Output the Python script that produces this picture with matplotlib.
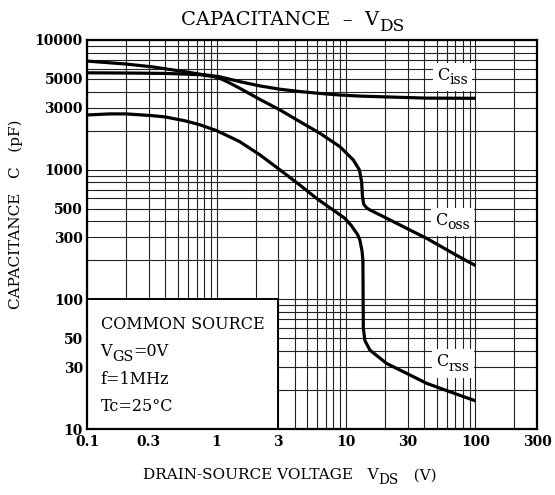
import matplotlib
matplotlib.use("Agg")
import matplotlib.pyplot as plt
from matplotlib.patches import Rectangle
from matplotlib.transforms import offset_copy, IdentityTransform

# data (V, pF)
ciss_v = [0.1, 0.2, 0.315, 0.57, 0.74, 1.06, 1.5, 2.16, 3.09, 4.4, 6.28, 9.0, 12.8, 20, 42, 100]
ciss_c = [6870, 6520, 6210, 5690, 5450, 5200, 4780, 4420, 4170, 4000, 3870, 3760, 3690, 3640, 3560, 3550]

coss_v = [0.1, 0.2, 0.4, 0.74, 0.95, 1.1, 1.25, 1.51, 2.16, 3.09, 4.4, 6.28, 8.97, 11.4, 12.7,
          13.2, 13.4, 13.7, 14.5, 15.3, 20, 30, 42, 70, 100]
coss_c = [5580, 5560, 5520, 5400, 5220, 4980, 4680, 4240, 3480, 2885, 2345, 1908, 1503, 1185, 993,
          800, 620, 540, 505, 489, 428, 349, 295, 221, 182]

crss_v = [0.1, 0.15, 0.2, 0.315, 0.4, 0.57, 0.74, 1.0, 1.5, 2.16, 3.09, 4.4, 6.0, 8.0, 9.8,
          11.0, 12.3, 12.8, 13.3, 13.5, 13.55, 13.6, 14.0, 15.3, 20.6, 30, 42, 70, 100]
crss_c = [2640, 2690, 2690, 2610, 2550, 2380, 2220, 2000, 1650, 1300, 995, 760, 594, 486, 421,
          370, 315, 286, 235, 200, 110, 60, 48, 40.6, 32, 26.6, 22.5, 18.7, 16.5]

x_ticks = [0.1, 0.3, 1, 3, 10, 30, 100, 300]
x_tick_labels = ["0.1", "0.3", "1", "3", "10", "30", "100", "300"]
y_ticks = [10, 30, 50, 100, 300, 500, 1000, 3000, 5000, 10000]
y_tick_labels = ["10", "30", "50", "100", "300", "500", "1000", "3000", "5000", "10000"]

plt.rcParams['font.family'] = 'DejaVu Serif'

fig = plt.figure(figsize=(5.55, 4.95), dpi=100)
ax = fig.add_axes([0.157, 0.1333, 0.811, 0.786])
ax.set_xscale('log')
ax.set_yscale('log')
ax.set_xlim(0.1, 300)
ax.set_ylim(10, 10000)

# full log grid (1..9 in each decade)
ax.set_axisbelow(True)
ax.grid(True, which='both', color='#222222', linewidth=0.8)
ax.set_xticks(x_ticks)
ax.set_xticklabels(x_tick_labels, fontsize=10, fontweight='bold')
ax.set_yticks(y_ticks)
ax.set_yticklabels(y_tick_labels, fontsize=10, fontweight='bold')
ax.tick_params(which='both', length=0)
ax.tick_params(axis='x', pad=4)
ax.tick_params(axis='y', pad=3)
for s in ax.spines.values():
    s.set_linewidth(1.6)

for v, c in [(ciss_v, ciss_c), (coss_v, coss_c), (crss_v, crss_c)]:
    ax.plot(v, c, color='black', linewidth=2.3, zorder=3, solid_capstyle='butt')

renderer = fig.canvas.get_renderer()


def seg_text(host, x, y, parts, size, transform, center=True, sub_scale=0.9,
             drop=0.32, white_box=None, zorder=4):
    """draw text made of (string, is_subscript) parts, subscripts lowered"""
    arts = []
    for txt, is_sub in parts:
        fs = size * sub_scale if is_sub else size
        a = host.text(x, y, txt, fontsize=fs, transform=transform, ha='left',
                      va='baseline', zorder=zorder)
        arts.append((a, is_sub))
    widths = [a.get_window_extent(renderer).width for a, _ in arts]
    total = sum(widths)
    cur = -total / 2 if center else 0
    dpi = fig.dpi
    for (a, is_sub), w in zip(arts, widths):
        dy = -drop * size * dpi / 72 if is_sub else 0
        a.set_transform(offset_copy(transform, fig=fig, x=cur, y=dy, units='dots'))
        cur += w
    if white_box is not None:
        bbs = [a.get_window_extent(renderer) for a, _ in arts]
        x0 = min(b.x0 for b in bbs) - white_box[0]
        x1 = max(b.x1 for b in bbs) + white_box[0]
        y0 = min(b.y0 for b in bbs) - white_box[1]
        y1 = max(b.y1 for b in bbs) + white_box[1]
        host.add_patch(Rectangle((x0, y0), x1 - x0, y1 - y0, transform=IdentityTransform(),
                                 facecolor='white', edgecolor='none', zorder=zorder - 0.5))
    return arts


# conditions box
ax.add_patch(Rectangle((0.1, 10), 2.9, 90, facecolor='white', edgecolor='black',
                       linewidth=1.4, zorder=2))
box_lines = [[("COMMON SOURCE", False)],
             [("V", False), ("GS", True), ("=0V", False)],
             [("f=1MHz", False)],
             [("Tc=25°C", False)]]
box_y = [0.258, 0.188, 0.116, 0.046]
for parts, yy in zip(box_lines, box_y):
    seg_text(ax, 0.03, yy, parts, 11.5, ax.transAxes, center=False)

# curve labels
for sub, cc in [("iss", 4950), ("oss", 375), ("rss", 30.5)]:
    seg_text(ax, 67, cc, [("C", False), (sub, True)], 11.5, ax.transData,
             sub_scale=0.88, drop=0.28, white_box=(4, 4))

seg_text(fig, 0.528, 0.95, [("CAPACITANCE  –  V", False), ("DS", True)], 14, fig.transFigure,
         sub_scale=0.88, drop=0.3)
seg_text(fig, 0.522, 0.032, [("DRAIN-SOURCE VOLTAGE   V", False), ("DS", True), ("   (V)", False)],
         11, fig.transFigure, sub_scale=0.9, drop=0.3)
fig.text(0.029, 0.568, "CAPACITANCE   C   (pF)", fontsize=11, rotation=90, ha='center', va='center')

fig.savefig("out.png", dpi=100)
